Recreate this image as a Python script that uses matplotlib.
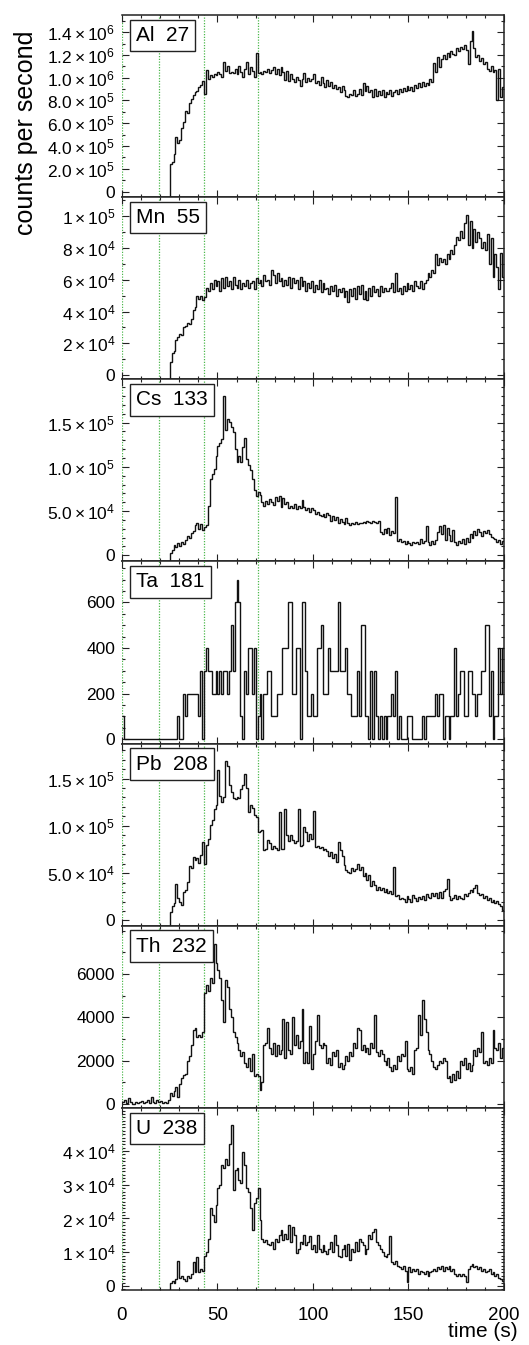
import numpy as np
import matplotlib
matplotlib.use("Agg")
import matplotlib.pyplot as plt
from matplotlib.ticker import MultipleLocator, FixedLocator

plt.rcParams['font.family'] = ['Liberation Sans', 'DejaVu Sans']
plt.rcParams['mathtext.fontset'] = 'custom'
plt.rcParams['mathtext.rm'] = 'Liberation Sans'
plt.rcParams['mathtext.it'] = 'Liberation Sans:italic'
plt.rcParams['mathtext.bf'] = 'Liberation Sans:bold'

# 1 s bins, 0..200 s
edges = np.arange(0, 201)

# Al 27 (x 1e5 cps); -1 = below the plotted range (before the signal starts)
al = np.array([
    -1, -1, -1, -1, -1, -1, -1, -1, -1, -1,
    -1, -1, -1, -1, -1, -1, -1, -1, -1, -1,
    -1, -1, -1, -1, -1, 2.4, 2.6, 3.3, 4.8, 4.3,
    4.5, 5.6, 6.1, 7.1, 6.9, 7.8, 8.1, 8.5, 8.7, 8.8,
    9.2, 9.4, 9.7, 8.6, 10.7, 9.9, 10.2, 10.1, 10.3, 10.2,
    10.5, 10.3, 10.1, 11.4, 10.6, 11.0, 10.4, 10.5, 10.4, 10.8,
    10.3, 11.0, 10.5, 10.1, 10.8, 11.4, 10.3, 10.9, 10.6, 10.1,
    12.2, 10.4, 10.5, 10.3, 10.6, 10.5, 10.8, 10.4, 10.7, 10.9,
    10.3, 10.8, 10.2, 10.9, 10.5, 9.8, 10.6, 9.7, 10.3, 9.9,
    9.6, 10.1, 9.8, 9.3, 9.9, 10.4, 9.6, 10.0, 9.7, 9.9,
    10.3, 9.5, 9.7, 9.4, 10.1, 9.5, 9.2, 9.8, 9.3, 9.6,
    9.1, 9.4, 9.0, 9.2, 8.7, 9.3, 8.9, 8.4, 8.3, 8.6,
    8.5, 8.9, 8.4, 8.6, 9.0, 8.5, 9.5, 8.8, 9.3, 8.7,
    8.9, 8.3, 9.0, 8.4, 8.8, 8.5, 8.9, 8.3, 8.7, 8.6,
    8.9, 8.4, 8.7, 8.9, 8.6, 9.0, 8.7, 9.1, 8.8, 9.3,
    8.9, 9.2, 8.8, 9.4, 9.1, 9.5, 9.2, 9.6, 9.3, 9.5,
    9.4, 9.9, 9.6, 11.3, 10.5, 11.8, 10.9, 11.6, 12.0, 11.6,
    12.2, 11.8, 12.3, 12.1, 12.0, 12.6, 12.3, 12.7, 12.5, 12.9,
    12.4, 11.2, 13.2, 14.1, 12.6, 11.8, 12.0, 11.5, 11.7, 11.2,
    11.4, 10.8, 10.6, 11.0, 10.5, 10.7, 8.0, 10.8, 8.3, 9.2]) * 1e5

# Mn 55 (x 1e4 cps)
mn = np.array([
    -1, -1, -1, -1, -1, -1, -1, -1, -1, -1,
    -1, -1, -1, -1, -1, -1, -1, -1, -1, -1,
    -1, -1, -1, -1, -1, 0.8, 1.4, 1.5, 2.2, 2.4,
    2.6, 2.5, 3.0, 3.1, 3.3, 3.2, 3.5, 4.1, 4.3, 5.0,
    4.8, 5.0, 4.7, 4.9, 5.5, 5.3, 5.8, 5.4, 6.0, 5.6,
    5.9, 5.3, 6.1, 5.5, 6.2, 5.6, 5.9, 5.4, 6.2, 5.7,
    5.5, 6.0, 5.4, 5.8, 5.6, 6.0, 5.5, 5.8, 5.9, 5.4,
    6.1, 5.8, 6.0, 5.6, 6.3, 5.9, 6.0, 5.7, 6.6, 6.3,
    5.8, 6.4, 5.9, 6.1, 5.6, 6.0, 5.7, 6.2, 5.5, 6.1,
    5.8, 6.0, 5.4, 6.2, 5.6, 5.9, 5.3, 5.8, 5.5, 5.9,
    5.2, 5.7, 5.4, 6.0, 5.2, 5.8, 5.4, 5.5, 5.1, 5.6,
    5.3, 5.7, 5.0, 5.4, 5.2, 5.5, 4.9, 5.3, 4.6, 5.4,
    5.0, 5.5, 4.8, 5.6, 5.1, 5.7, 4.8, 5.3, 4.7, 5.5,
    5.0, 5.6, 5.2, 5.4, 5.0, 5.6, 5.2, 5.5, 5.3, 5.3,
    5.5, 5.8, 5.2, 6.4, 5.3, 5.5, 5.1, 5.6, 5.3, 5.8,
    5.4, 5.7, 5.3, 5.9, 5.6, 5.5, 5.9, 5.4, 5.8, 6.0,
    6.4, 6.2, 6.6, 6.4, 7.6, 6.9, 7.4, 7.1, 7.3, 7.0,
    7.6, 7.3, 7.9, 7.6, 8.2, 8.7, 8.5, 9.1, 8.6, 9.6,
    10.1, 8.2, 9.7, 8.0, 9.2, 8.4, 9.0, 8.6, 8.0, 8.4,
    7.9, 8.9, 7.0, 8.6, 6.2, 7.6, 6.8, 5.4, 7.7, 6.2]) * 1e4

# Cs 133 (x 1e4 cps)
cs = np.array([
    -1, -1, -1, -1, -1, -1, -1, -1, -1, -1,
    -1, -1, -1, -1, -1, -1, -1, -1, -1, -1,
    -1, -1, -1, -1, -1, 0.3, 0.6, 1.2, 0.9, 1.4,
    1.1, 1.5, 1.3, 1.7, 2.2, 2.0, 2.5, 2.7, 3.4, 3.6,
    3.0, 3.5, 2.9, 3.2, 3.4, 5.6, 8.6, 9.2, 9.8, 11.2,
    12.4, 12.7, 13.1, 18.0, 14.2, 15.4, 15.1, 14.5, 13.9, 12.0,
    10.5, 11.2, 10.6, 12.2, 13.3, 10.9, 10.2, 9.6, 8.6, 7.4,
    6.7, 7.1, 6.8, 6.0, 5.6, 6.1, 5.8, 6.4, 6.0, 5.7,
    6.6, 6.1, 6.7, 5.5, 6.5, 5.8, 6.0, 5.3, 5.6, 5.4,
    5.8, 5.2, 5.6, 5.4, 6.3, 5.5, 5.1, 5.4, 4.9, 5.3,
    5.1, 4.7, 4.9, 4.6, 4.4, 4.7, 4.3, 4.8, 4.5, 3.9,
    4.4, 4.0, 4.3, 3.6, 4.1, 3.8, 3.5, 4.2, 3.6, 3.4,
    3.7, 3.5, 3.8, 3.5, 3.7, 3.6, 3.8, 3.7, 3.9, 3.8,
    3.7, 3.9, 3.8, 3.6, 3.9, 2.6, 2.4, 3.0, 2.5, 3.1,
    2.3, 2.7, 2.5, 6.6, 1.6, 1.8, 1.5, 1.6, 1.3, 1.6,
    1.4, 1.2, 1.5, 1.4, 1.5, 1.3, 1.8, 1.4, 1.6, 3.3,
    1.5, 1.2, 1.6, 1.3, 1.7, 2.6, 3.3, 2.4, 3.4, 1.7,
    3.1, 2.3, 1.6, 2.9, 1.5, 1.2, 1.6, 1.4, 1.8, 1.3,
    1.9, 1.5, 2.4, 2.0, 2.8, 2.3, 3.0, 2.6, 2.2, 2.8,
    2.5, 2.9, 2.4, 2.1, 2.0, 1.8, 1.5, 1.7, 1.3, 1.6]) * 1e4

# Ta 181 (x 100 cps)
ta = np.array([
    1, 0, 0, 0, 0, 0, 0, 0, 0, 0,
    0, 0, 0, 0, 0, 0, 0, 0, 0, 0,
    0, 0, 0, 0, 0, 0, 0, 0, 0, 1,
    0, 0, 2, 1, 2, 2, 2, 2, 2, 2,
    1, 3, 0, 3, 4, 3, 3, 2, 2, 3,
    2, 3, 2, 3, 3, 2, 3, 5, 3, 6,
    7, 6, 1, 0, 3, 2, 4, 4, 2, 4,
    0, 1, 2, 0, 2, 2, 3, 3, 1, 1,
    1, 2, 2, 2, 4, 4, 4, 6, 6, 2,
    2, 4, 4, 0, 6, 6, 3, 1, 1, 2,
    1, 1, 4, 4, 5, 2, 2, 2, 4, 3,
    3, 3, 3, 6, 3, 3, 3, 4, 2, 2,
    1, 1, 1, 3, 1, 5, 5, 1, 1, 0,
    3, 0, 3, 1, 0, 1, 0, 1, 0, 1,
    1, 2, 1, 3, 0, 1, 0, 0, 0, 1,
    1, 1, 0, 0, 0, 0, 0, 1, 0, 1,
    1, 1, 1, 1, 2, 1, 2, 2, 0, 1,
    1, 0, 1, 1, 4, 1, 2, 3, 3, 1,
    1, 3, 3, 2, 2, 1, 2, 2, 3, 3,
    5, 5, 1, 3, 0, 1, 1, 4, 2, 4]) * 100

# Pb 208 (x 1e4 cps)
pb = np.array([
    -1, -1, -1, -1, -1, -1, -1, -1, -1, -1,
    -1, -1, -1, -1, -1, -1, -1, -1, -1, -1,
    -1, -1, -1, -1, -1, 0.9, 1.5, 1.8, 3.9, 2.4,
    2.0, 1.6, 3.0, 3.2, 4.1, 5.8, 5.5, 6.7, 6.4, 6.6,
    6.1, 6.9, 8.3, 6.0, 8.0, 8.6, 10.1, 10.6, 11.8, 12.2,
    15.9, 13.2, 12.5, 13.0, 16.9, 16.3, 14.3, 13.6, 12.9, 12.8,
    13.0, 12.9, 13.9, 14.3, 15.5, 14.0, 11.5, 12.2, 11.9, 11.1,
    10.9, 9.4, 9.5, 9.6, 7.4, 7.6, 8.5, 8.2, 7.6, 7.9,
    7.7, 7.5, 11.5, 7.6, 7.6, 11.8, 9.0, 8.4, 9.0, 8.5,
    8.2, 8.4, 11.8, 7.9, 8.0, 9.9, 9.4, 8.4, 9.1, 8.6,
    11.6, 7.8, 7.9, 7.7, 7.8, 7.5, 7.6, 7.3, 6.8, 7.2,
    6.6, 7.0, 6.2, 8.3, 7.4, 6.8, 5.9, 5.3, 5.1, 5.0,
    5.5, 5.2, 5.4, 6.0, 5.3, 5.7, 4.7, 5.0, 4.3, 4.8,
    3.6, 4.2, 3.7, 3.2, 3.5, 3.2, 3.4, 3.0, 3.3, 2.9,
    3.1, 2.8, 5.6, 2.6, 2.7, 2.3, 2.4, 2.3, 2.0, 2.6,
    2.3, 2.0, 2.7, 2.4, 2.1, 2.5, 2.3, 2.6, 2.2, 2.8,
    2.5, 2.4, 2.9, 2.6, 2.9, 2.4, 3.0, 2.4, 3.1, 3.3,
    4.4, 2.6, 2.2, 2.4, 2.7, 2.3, 2.6, 2.4, 2.3, 2.8,
    2.6, 2.9, 3.2, 3.0, 3.4, 3.7, 2.9, 2.7, 2.8, 2.4,
    2.6, 2.2, 2.4, 2.0, 2.2, 1.8, 2.1, 1.7, 1.5, 1.1]) * 1e4

# Th 232 (x 1000 cps)
th = np.array([
    0.1, 0.2, 0.05, 0.25, 0.1, 0.0, 0.0, 0.1, 0.05, 0.1,
    0.15, 0.05, 0.1, 0.2, 0.05, 0.3, 0.1, 0.05, 0.2, 0.1,
    0.15, 0.05, 0.1, 0.05, 0.2, 0.5, 0.35, 0.6, 0.8, 0.3,
    0.9, 1.2, 1.35, 1.4, 2.0, 2.2, 2.7, 3.4, 3.5, 3.1,
    3.2, 3.1, 3.3, 5.1, 5.5, 5.2, 5.8, 5.6, 7.4, 6.5,
    6.2, 5.8, 4.8, 3.8, 5.7, 5.4, 4.4, 4.0, 3.3, 3.1,
    2.8, 2.5, 2.2, 2.4, 1.9, 1.7, 2.1, 1.5, 2.3, 1.3,
    1.4, 1.3, 0.65, 1.0, 2.7, 2.8, 3.5, 2.6, 2.3, 2.8,
    2.2, 2.7, 2.3, 2.5, 3.9, 2.1, 3.8, 2.5, 2.3, 4.0,
    2.7, 3.2, 2.6, 2.9, 4.4, 1.9, 2.4, 1.9, 3.6, 1.6,
    2.3, 2.9, 4.1, 2.7, 2.6, 2.8, 2.7, 1.9, 2.1, 1.8,
    2.4, 2.2, 2.5, 1.7, 1.9, 1.6, 1.8, 2.2, 2.0, 2.4,
    2.2, 2.8, 2.6, 3.5, 3.4, 2.5, 2.7, 2.4, 2.6, 2.3,
    2.8, 2.6, 4.1, 2.4, 2.2, 2.5, 2.3, 2.0, 1.8, 2.1,
    1.7, 1.5, 1.8, 1.6, 2.2, 2.0, 2.3, 2.2, 2.9, 1.6,
    1.5, 1.7, 1.4, 2.5, 2.6, 4.1, 3.2, 4.8, 3.9, 3.3,
    2.5, 2.3, 2.0, 1.7, 1.6, 1.8, 2.0, 1.9, 2.1, 2.0,
    1.2, 1.3, 1.0, 1.4, 1.1, 1.5, 1.2, 2.0, 1.8, 2.1,
    1.6, 1.9, 1.5, 1.8, 2.5, 2.2, 2.6, 2.4, 3.3, 1.9,
    2.0, 1.8, 2.1, 1.9, 3.4, 2.6, 2.5, 2.8, 2.1, 2.6]) * 1e3

# U 238 (x 1e4 cps)
u = np.array([
    -0.5, -0.5, -0.5, -0.5, -0.5, -0.5, -0.5, -0.5, -0.5, -0.5,
    -0.5, -0.5, -0.5, -0.5, -0.5, -0.5, -0.5, -0.5, -0.5, -0.5,
    -0.5, -0.5, -0.5, -0.5, -0.5, 0.1, 0.15, 0.1, 0.2, 0.75,
    0.25, 0.3, 0.2, 0.15, 0.3, 0.25, 0.35, 0.72, 0.4, 0.85,
    0.4, 0.5, 0.45, 0.9, 1.0, 1.4, 2.3, 2.1, 1.9, 2.4,
    2.9, 3.0, 3.6, 3.5, 3.75, 3.6, 4.2, 4.78, 2.85, 3.45,
    3.5, 3.15, 3.05, 3.98, 3.6, 2.9, 2.8, 2.3, 1.66, 2.45,
    2.6, 2.9, 1.96, 1.4, 1.3, 1.35, 1.25, 1.2, 1.3, 1.1,
    1.4, 1.3, 1.5, 1.66, 1.35, 1.55, 1.4, 1.8, 1.3, 1.75,
    1.5, 0.97, 1.1, 1.3, 1.25, 1.5, 1.2, 1.3, 1.47, 1.1,
    1.2, 1.0, 1.5, 1.1, 1.0, 1.2, 1.05, 0.95, 1.1, 1.3,
    1.0, 1.5, 1.2, 0.9, 0.85, 1.1, 1.2, 0.9, 1.25, 0.77,
    1.1, 1.0, 1.3, 1.05, 1.4, 1.3, 1.2, 0.95, 1.1, 1.5,
    1.4, 1.6, 1.7, 1.3, 1.2, 1.1, 1.0, 0.9, 0.85, 0.95,
    1.47, 0.7, 0.65, 0.75, 0.6, 0.55, 0.5, 0.6, 0.45, 0.13,
    0.55, 0.4, 0.5, 0.45, 0.5, 0.35, 0.45, 0.4, 0.35, 0.45,
    0.3, 0.4, 0.45, 0.5, 0.45, 0.55, 0.5, 0.6, 0.45, 0.55,
    0.5, 0.6, 0.45, 0.5, 0.35, 0.3, 0.35, 0.3, 0.35, 0.3,
    0.13, 0.5, 0.6, 0.65, 0.55, 0.6, 0.5, 0.55, 0.45, 0.5,
    0.4, 0.45, 0.5, 0.35, 0.4, 0.3, 0.35, 0.25, 0.2, 0.15]) * 1e4

names = ['Al  27', 'Mn  55', 'Cs  133', 'Ta  181', 'Pb  208', 'Th  232', 'U  238']
series = [al, mn, cs, ta, pb, th, u]

ylims = [(-5e4, 1.55e6), (-2.7e3, 1.12e5), (-7e3, 1.99e5), (-19, 780),
         (-5.6e3, 1.87e5), (-186, 8230), (-1.2e3, 5.28e4)]
yticks = [[0, 2e5, 4e5, 6e5, 8e5, 1e6, 1.2e6, 1.4e6],
          [0, 2e4, 4e4, 6e4, 8e4, 1e5],
          [0, 5e4, 1e5, 1.5e5],
          [0, 200, 400, 600],
          [0, 5e4, 1e5, 1.5e5],
          [0, 2000, 4000, 6000],
          [0, 1e4, 2e4, 3e4, 4e4]]
ylabels = [['0', r'$2.0\times10^{5}$', r'$4.0\times10^{5}$', r'$6.0\times10^{5}$',
            r'$8.0\times10^{5}$', r'$1.0\times10^{6}$', r'$1.2\times10^{6}$', r'$1.4\times10^{6}$'],
           ['0', r'$2\times10^{4}$', r'$4\times10^{4}$', r'$6\times10^{4}$',
            r'$8\times10^{4}$', r'$1\times10^{5}$'],
           ['0', r'$5.0\times10^{4}$', r'$1.0\times10^{5}$', r'$1.5\times10^{5}$'],
           ['0', '200', '400', '600'],
           ['0', r'$5.0\times10^{4}$', r'$1.0\times10^{5}$', r'$1.5\times10^{5}$'],
           ['0', '2000', '4000', '6000'],
           ['0', r'$1\times10^{4}$', r'$2\times10^{4}$', r'$3\times10^{4}$', r'$4\times10^{4}$']]
yminor = [1e5, 1e4, 1e4, 50, 1e4, 1000, 1000]

# marker times (s)
vlines = [0, 19.2, 43.2, 71.3]

fig = plt.figure(figsize=(5.29, 13.45), dpi=100)
axes = fig.subplots(7, 1, sharex=True)
fig.subplots_adjust(left=0.2306, right=0.9527, top=0.9888, bottom=0.0409, hspace=0)

for i, ax in enumerate(axes):
    for x in vlines:
        ax.axvline(x, color='#4cb84c', lw=0.9, ls=(0, (1, 1.2)), zorder=1)
    ax.stairs(series[i], edges, baseline=None, color='#111111', lw=1.0, zorder=3)
    ax.set_xlim(0, 200)
    ax.set_ylim(*ylims[i])
    ax.yaxis.set_major_locator(FixedLocator(yticks[i]))
    ax.set_yticklabels(ylabels[i])
    ax.yaxis.set_minor_locator(MultipleLocator(yminor[i]))
    ax.xaxis.set_major_locator(MultipleLocator(50))
    ax.xaxis.set_minor_locator(MultipleLocator(10))
    ax.tick_params(which='both', direction='in', top=True, right=True, width=0.8, color='#222')
    ax.tick_params(which='major', length=5)
    ax.tick_params(which='minor', length=2.5)
    ax.tick_params(axis='y', labelsize=12.5, pad=5)
    ax.tick_params(axis='x', labelsize=13.5, pad=12)
    for side in ['top', 'bottom', 'right']:
        ax.spines[side].set_linewidth(1.1)
        ax.spines[side].set_color('#222')
    ax.spines['left'].set_visible(False)
    ax.text(0.037, 0.94, names[i], transform=ax.transAxes, fontsize=15,
            ha='left', va='top', zorder=5,
            bbox=dict(boxstyle='square,pad=0.3', fc='white', ec='#222', lw=1.0))
    if i < 6:
        ax.tick_params(axis='x', labelbottom=False)

fig.text(0.049, 0.901, 'counts per second', rotation=90, ha='center', va='center', fontsize=18)
fig.text(0.979, 0.0168, 'time (s)', ha='right', va='top', fontsize=15)

fig.savefig('out.png', dpi=100)
